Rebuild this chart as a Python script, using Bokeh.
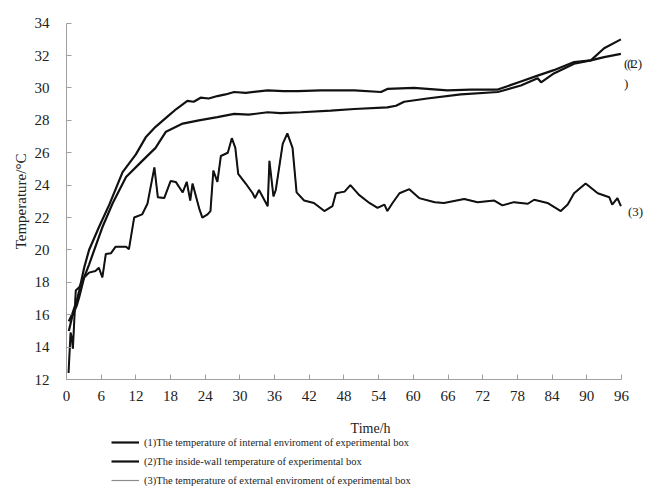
from bokeh.plotting import figure
from bokeh.models import FixedTicker, Label, Legend, LegendItem, Range1d
from bokeh.embed import file_html
from bokeh.resources import INLINE

# ---- data ----
t_int = [0.4, 1.0, 1.8, 2.2, 3.05, 3.9, 5.6, 7.4, 9.7, 12.0, 13.7, 15.4, 17.5,
         19.0, 20.9, 22.0, 23.2, 24.6, 26.1, 27.5, 29.0, 31.0, 34.8, 37.5, 40.0,
         44.0, 49.8, 54.4, 55.5, 60.1, 65.9, 69.9, 74.6, 78.6, 81.5, 84.3,
         87.8, 90.7, 93.0, 95.9]
temp_int = [15.6, 16.05, 16.9, 17.5, 18.9, 20.0, 21.4, 22.8, 24.8, 25.9, 26.95, 27.6, 28.25,
            28.7, 29.2, 29.15, 29.4, 29.35, 29.5, 29.6, 29.75, 29.7, 29.85, 29.8, 29.8,
            29.85, 29.85, 29.75, 29.94, 30.0, 29.85, 29.9, 29.9, 30.4, 30.76, 31.1,
            31.6, 31.7, 32.45, 33.0]

t_wall = [0.4, 1.0, 1.8, 2.2, 3.05, 3.9, 6.2, 8.0, 10.3, 13.1, 15.4, 17.2, 20.1,
          22.9, 26.1, 29.0, 31.5, 34.8, 37.0, 40.6, 45.7, 49.8, 55.5, 57.0, 58.4,
          62.4, 68.2, 74.6, 78.6, 81.5, 82.1, 84.3, 87.8, 90.7, 93.0, 95.9]
temp_wall = [15.0, 15.9, 16.6, 17.1, 18.3, 19.1, 21.4, 22.9, 24.5, 25.5, 26.3, 27.3, 27.8,
             28.0, 28.2, 28.4, 28.35, 28.5, 28.45, 28.5, 28.6, 28.7, 28.8, 28.9, 29.15,
             29.35, 29.6, 29.75, 30.15, 30.6, 30.35, 30.9, 31.5, 31.7, 31.9, 32.1]

t_ext = [0.35, 0.7, 0.9, 1.1, 1.6, 2.2, 3.05, 3.9, 5.0, 5.6, 6.2, 6.8, 7.7, 8.5, 10.3,
         10.8, 11.7, 13.1, 14.0, 15.2, 15.8, 16.9, 18.0, 18.9, 20.1, 20.8, 21.4, 21.8,
         22.4, 23.0, 23.5, 24.4, 24.9, 25.4, 26.1, 26.7, 27.9, 28.6, 29.2, 29.7, 31.0,
         32.2, 32.6, 33.3, 34.8, 35.1, 35.8, 36.2, 37.4, 38.2, 39.1, 39.8, 41.1, 42.8,
         44.6, 46.0, 46.6, 48.1, 49.1, 50.6, 52.4, 53.8, 55.0, 55.5, 56.4, 57.6, 59.3,
         61.0, 63.7, 65.3, 68.8, 71.1, 74.0, 75.4, 77.4, 79.8, 80.9, 83.2, 85.5, 86.7,
         87.8, 89.8, 91.9, 93.9, 94.4, 95.3, 95.9]
temp_ext = [12.4, 14.9, 14.6, 13.9, 17.5, 17.7, 18.3, 18.6, 18.7, 18.9, 18.3, 19.75, 19.8,
            20.2, 20.2, 20.05, 22.0, 22.2, 22.85, 25.1, 23.25, 23.2, 24.25, 24.2, 23.55,
            24.2, 23.05, 24.1, 23.3, 22.5, 22.0, 22.2, 22.4, 24.9, 24.2, 25.8, 26.0, 26.9,
            26.3, 24.7, 24.1, 23.5, 23.2, 23.7, 22.7, 25.5, 23.3, 23.7, 26.55, 27.2, 26.3,
            23.55, 23.05, 22.9, 22.4, 22.7, 23.5, 23.6, 24.0, 23.4, 22.9, 22.6, 22.8, 22.4,
            22.9, 23.5, 23.75, 23.2, 22.95, 22.9, 23.15, 22.95, 23.05, 22.75, 22.95, 22.85,
            23.1, 22.9, 22.4, 22.8, 23.5, 24.1, 23.5, 23.25, 22.8, 23.2, 22.7]

x_ticks = [0, 6, 12, 18, 24, 30, 36, 42, 48, 54, 60, 66, 72, 78, 84, 90, 96]
y_ticks = [12, 14, 16, 18, 20, 22, 24, 26, 28, 30, 32, 34]

legend_labels = [
    "(1)The temperature of internal enviroment of experimental box",
    "(2)The inside-wall temperature of experimental box",
    "(3)The temperature of external enviroment of experimental box",
]

SERIF = "Liberation Serif"
TXT = "#222222"

# the frame covers the whole page; the axes are pinned to t=0 and T=12 and
# bounded to the data area (0..96 h, 12..34 degC)
p = figure(width=649, height=489, output_backend="svg", toolbar_location=None,
           x_range=Range1d(-11.42, 100.85), y_range=Range1d(5.21, 35.40),
           min_border_left=0, min_border_right=0, min_border_top=0,
           min_border_bottom=0)
p.outline_line_color = None
p.xgrid.visible = False
p.ygrid.visible = False
p.background_fill_color = "white"
p.border_fill_color = "white"

for ax in (p.xaxis[0], p.yaxis[0]):
    ax.axis_line_color = "#a0a0a0"
    ax.major_tick_line_color = "#a0a0a0"
    ax.major_tick_in = 5
    ax.major_tick_out = 0
    ax.minor_tick_line_color = None
    ax.major_label_text_font = SERIF
    ax.major_label_text_font_size = "15px"
    ax.major_label_text_color = TXT

p.xaxis.ticker = FixedTicker(ticks=x_ticks)
p.xaxis.bounds = (x_ticks[0], x_ticks[-1])
p.xaxis.fixed_location = y_ticks[0]
p.xaxis.major_label_standoff = 11
p.yaxis.ticker = FixedTicker(ticks=y_ticks)
p.yaxis.bounds = (y_ticks[0], y_ticks[-1])
p.yaxis.fixed_location = x_ticks[0]
p.yaxis.major_label_standoff = 17

p.yaxis.axis_label = "Temperature/\u00b0C"
p.yaxis.axis_label_text_font = SERIF
p.yaxis.axis_label_text_font_size = "15px"
p.yaxis.axis_label_text_font_style = "normal"
p.yaxis.axis_label_text_color = TXT
p.yaxis.axis_label_standoff = 3

r1 = p.line(t_int, temp_int, line_color="#111111", line_width=2.2)
r2 = p.line(t_wall, temp_wall, line_color="#111111", line_width=2.2)
r3_legend = p.line(t_ext, temp_ext, line_color="#8a8a8a", line_width=1.2)
p.line(t_ext, temp_ext, line_color="#111111", line_width=2.0)

legend = Legend(items=[LegendItem(label=legend_labels[0], renderers=[r1]),
                       LegendItem(label=legend_labels[1], renderers=[r2]),
                       LegendItem(label=legend_labels[2], renderers=[r3_legend])],
                location=(111, 0), orientation="vertical",
                padding=0, margin=0, spacing=1,
                glyph_width=28, glyph_height=18, label_height=18,
                label_standoff=5, label_text_font=SERIF,
                label_text_font_size="10.5px", label_text_color=TXT,
                border_line_color=None, background_fill_alpha=0)
p.add_layout(legend, "center")

lab = dict(text_font=SERIF, text_font_size="13px", text_color=TXT,
           text_baseline="middle")
# x axis title (sits a little right of centre in the reference)
p.add_layout(Label(x=52.6, y=8.97, text="Time/h", text_align="center",
                   text_font=SERIF, text_font_size="14px", text_color=TXT,
                   text_baseline="middle"))
# end labels
p.add_layout(Label(x=t_ext[-1], y=temp_ext[-1], x_offset=7, y_offset=-5,
                   text="(3)", **lab))
p.add_layout(Label(x=t_wall[-1], y=temp_wall[-1], x_offset=3, y_offset=-10,
                   text="(1", **lab))
p.add_layout(Label(x=t_wall[-1], y=temp_wall[-1], x_offset=6, y_offset=-10,
                   text="(2)", **lab))
p.add_layout(Label(x=t_wall[-1], y=temp_wall[-1], x_offset=3, y_offset=-30,
                   text=")", **lab))

open("out.html", "w").write(file_html(p, INLINE))
